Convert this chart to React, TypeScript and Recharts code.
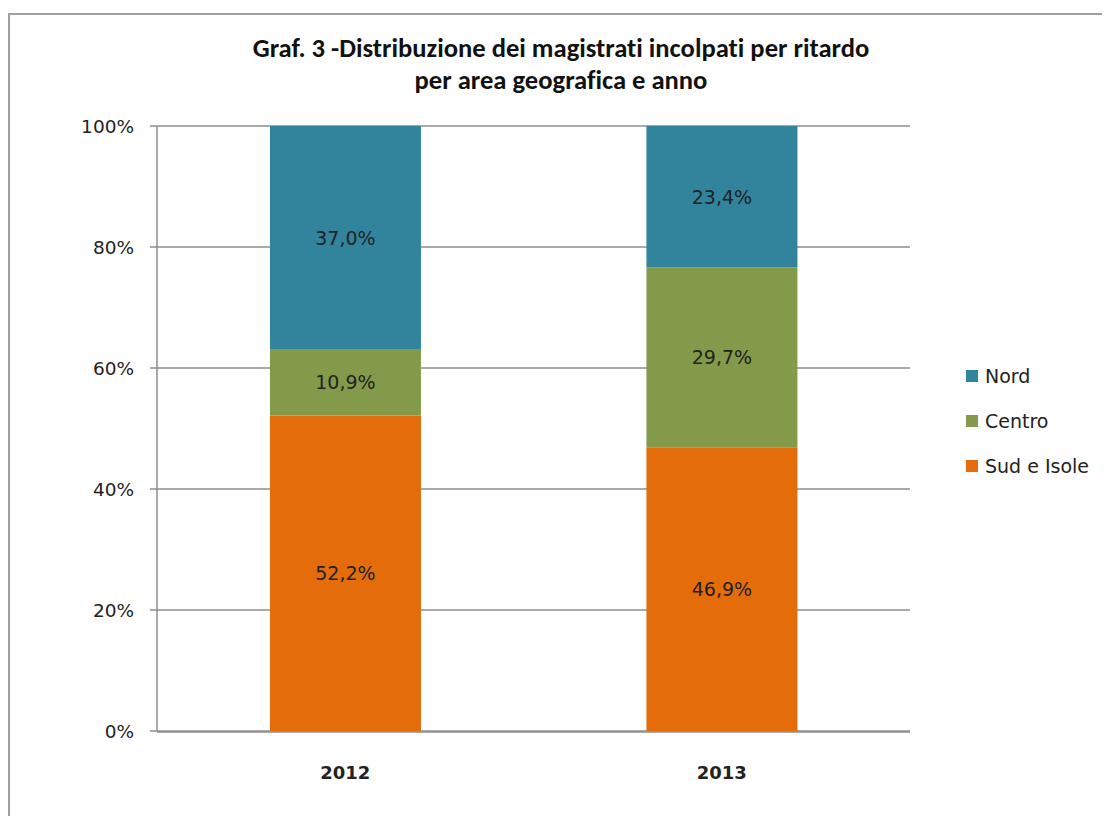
import React from "react";
import { BarChart, Bar, XAxis, YAxis, CartesianGrid, LabelList } from "recharts";

const categories = ["2012", "2013"];
const sudValues = [52.2, 46.9];
const centroValues = [10.9, 29.7];
const nordValues = [37.0, 23.4];
const yTicks = [0, 0.2, 0.4, 0.6, 0.8, 1];
const legendOrder = ["nord", "centro", "sud"];
const seriesNames: Record<string, string> = { nord: "Nord", centro: "Centro", sud: "Sud e Isole" };
const colors: Record<string, string> = { nord: "#31849B", centro: "#849A4B", sud: "#E46C0A" };

const data = categories.map((c, i) => ({
  year: c,
  idx: i + 0.5,
  sud: sudValues[i],
  centro: centroValues[i],
  nord: nordValues[i],
}));

const TITLE_FONT = "Carlito, Lato, 'Liberation Sans', sans-serif";
const FONT = "'DejaVu Sans', sans-serif";
const fmt = (v: any) => Number(v).toFixed(1).replace(".", ",") + "%";

export default function App() {
  return (
    <div style={{ position: "relative", width: 1102, height: 808, background: "#fff", fontFamily: FONT, overflow: "hidden" }}>
      <div style={{ position: "absolute", left: 0, top: 5, width: 1110, height: 820, borderTop: "2px solid #a0a0a0", borderLeft: "2px solid #a0a0a0" }} />
      <div style={{ position: "absolute", left: 0, width: 1106, top: 24, textAlign: "center", fontFamily: TITLE_FONT, fontWeight: "bold", fontSize: 26.6, lineHeight: "32px", color: "#111", fontVariantLigatures: "none" }}>
        Graf. 3 -Distribuzione dei magistrati incolpati per ritardo
        <br />
        per area geografica e anno
      </div>
      <div style={{ position: "absolute", left: 958, top: 345, fontFamily: FONT }}>
        {legendOrder.map((k) => (
          <div key={k} style={{ display: "flex", alignItems: "center", height: 45, fontSize: 19, color: "#222" }}>
            <span style={{ display: "inline-block", width: 12, height: 12, background: colors[k], marginRight: 7 }} />
            {seriesNames[k]}
          </div>
        ))}
      </div>
      <div style={{ position: "absolute", left: 0, top: 0 }}>
        <BarChart
          width={1102}
          height={808}
          data={data}
          stackOffset="expand"
          barCategoryGap="30%"
          margin={{ top: 118, right: 200, bottom: 83, left: 89 }}
        >
          <CartesianGrid vertical={false} stroke="#8c8c8c" strokeWidth={1.5} />
          <XAxis
            xAxisId="ticks"
            type="number"
            dataKey="idx"
            domain={[0, 2]}
            ticks={[0, 1, 2]}
            tick={false}
            tickSize={7}
            height={1}
            axisLine={{ stroke: "#8c8c8c", strokeWidth: 1.5 }}
            tickLine={{ stroke: "#8c8c8c", strokeWidth: 1.5 }}
          />
          <XAxis
            dataKey="year"
            xAxisId="cat"
            tickLine={false}
            axisLine={false}
            tickSize={0}
            tickMargin={35}
            height={1}
            tick={{ fontSize: 18, fontWeight: "bold", fill: "#222", fontFamily: FONT }}
          />
          <YAxis
            width={60}
            domain={[0, 1]}
            ticks={yTicks}
            tickFormatter={(v: number) => `${Math.round(v * 100)}%`}
            tickSize={7}
            tickMargin={16}
            axisLine={{ stroke: "#8c8c8c", strokeWidth: 1.5 }}
            tickLine={{ stroke: "#8c8c8c", strokeWidth: 1.5 }}
            tick={{ fontSize: 18.5, fill: "#222", fontFamily: FONT }}
          />
          <Bar dataKey="sud" name={seriesNames.sud} stackId="a" xAxisId="cat" fill={colors.sud} isAnimationActive={false}>
            <LabelList dataKey="sud" position="center" formatter={fmt} style={{ fontSize: 19, fill: "#222", fontFamily: FONT }} />
          </Bar>
          <Bar dataKey="centro" name={seriesNames.centro} stackId="a" xAxisId="cat" fill={colors.centro} isAnimationActive={false}>
            <LabelList dataKey="centro" position="center" formatter={fmt} style={{ fontSize: 19, fill: "#222", fontFamily: FONT }} />
          </Bar>
          <Bar dataKey="nord" name={seriesNames.nord} stackId="a" xAxisId="cat" fill={colors.nord} isAnimationActive={false}>
            <LabelList dataKey="nord" position="center" formatter={fmt} style={{ fontSize: 19, fill: "#222", fontFamily: FONT }} />
          </Bar>
        </BarChart>
      </div>
    </div>
  );
}
